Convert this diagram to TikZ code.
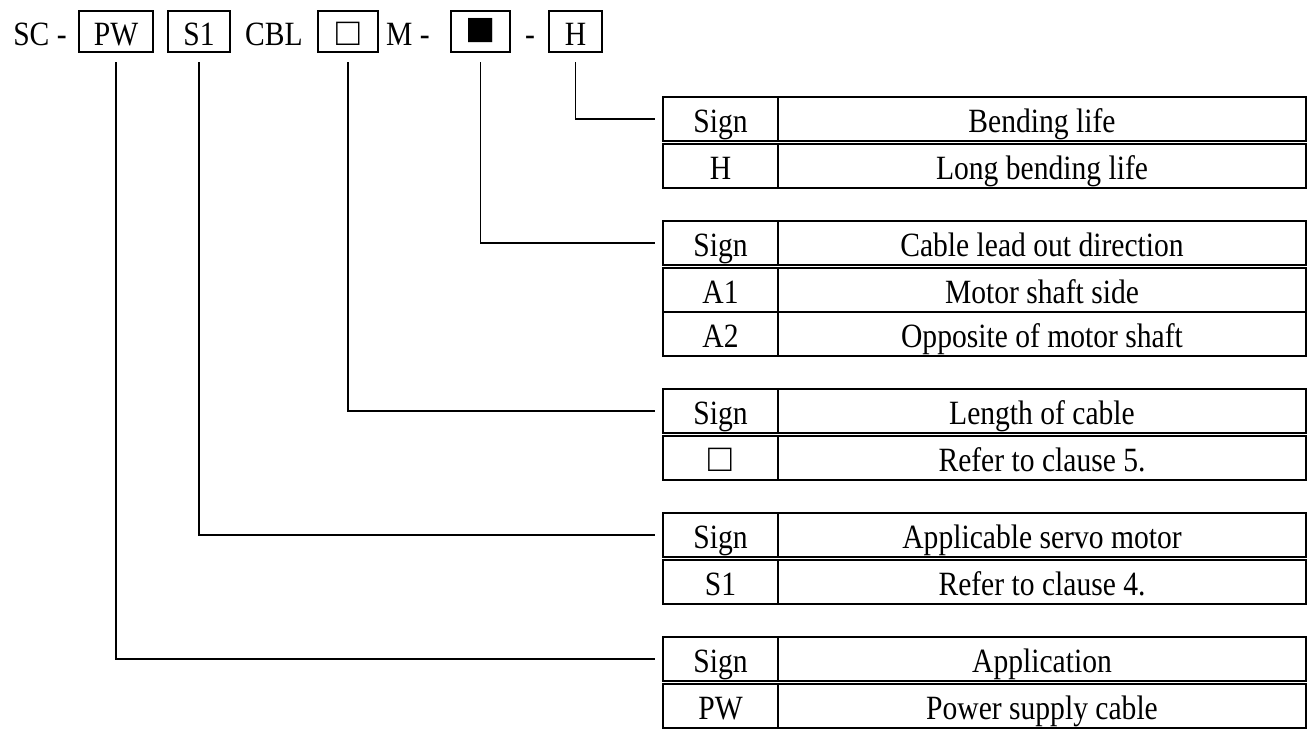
\documentclass[tikz,border=0pt]{standalone}
\usepackage{fontspec}
\setmainfont{Liberation Serif}[FakeStretch=0.87]
\newfontfamily\symfont{Liberation Serif}
\usetikzlibrary{positioning}

\newcommand{\whitesq}{{\symfont\fontsize{39}{39}\selectfont □}}
\newcommand{\blacksq}{{\symfont\fontsize{50}{50}\selectfont ■}}

\begin{document}
\begin{tikzpicture}[x=1pt,y=-1pt,
		every node/.style={font=\fontsize{34}{38}\selectfont,inner sep=0pt,outer sep=0pt,text height=27pt,text depth=0pt},
		codebox/.style={draw,line width=1.7pt,minimum height=41pt},
		signcell/.style={draw,line width=1.8pt,minimum width=115pt,minimum height=44pt},
		desccell/.style={draw,line width=1.8pt,minimum width=528pt,minimum height=44pt},
		lead/.style={line width=1.5pt}]
	\useasboundingbox (0,0) rectangle (1313,729);
	
	% Codice del modello
	\node (sc) at (40,31.5) {SC -};
	\node[codebox,minimum width=74pt] (pw) at (116,31.5) {PW};
	\node[codebox,minimum width=62pt] (s1) at (199,31.5) {S1};
	\node (cbl) at (274,31.5) {CBL};
	\node[codebox,minimum width=60pt] (len) at (348,31.5) {\whitesq};
	\node (m) at (408,31.5) {M -};
	\node[codebox,minimum width=59pt] (dir) at (480.5,31.5) {\blacksq};
	\node (dash) at (530,31.5) {-};
	\node[codebox,minimum width=53pt] (bend) at (575.5,31.5) {H};
	
	% Bending life
	\node[signcell,anchor=north west] (bs) at (663,97) {Sign};
	\node[desccell,right=0pt of bs] (bd) {Bending life};
	\node[signcell,below=3pt of bs] (bs1) {H};
	\node[desccell,right=0pt of bs1] (bd1) {Long bending life};
	
	% Cable lead out direction
	\node[signcell,below=33pt of bs1] (ds) {Sign};
	\node[desccell,right=0pt of ds] (dd) {Cable lead out direction};
	\node[signcell,below=3pt of ds] (ds1) {A1};
	\node[desccell,right=0pt of ds1] (dd1) {Motor shaft side};
	\node[signcell,below=0pt of ds1] (ds2) {A2};
	\node[desccell,right=0pt of ds2] (dd2) {Opposite of motor shaft};
	
	% Length of cable
	\node[signcell,below=33pt of ds2] (ls) {Sign};
	\node[desccell,right=0pt of ls] (ld) {Length of cable};
	\node[signcell,below=3pt of ls] (ls1) {\whitesq};
	\node[desccell,right=0pt of ls1] (ld1) {Refer to clause 5.};
	
	% Applicable servo motor
	\node[signcell,below=33pt of ls1] (ms) {Sign};
	\node[desccell,right=0pt of ms] (md) {Applicable servo motor};
	\node[signcell,below=3pt of ms] (ms1) {S1};
	\node[desccell,right=0pt of ms1] (md1) {Refer to clause 4.};
	
	% Application
	\node[signcell,below=33pt of ms1] (as) {Sign};
	\node[desccell,right=0pt of as] (ad) {Application};
	\node[signcell,below=3pt of as] (as1) {PW};
	\node[desccell,right=0pt of as1] (ad1) {Power supply cable};
	
	% Linee di richiamo
	\draw[lead] ([yshift=-10pt]bend.south) |- ([xshift=-8pt]bs.west);
	\draw[lead] ([yshift=-10pt]dir.south) |- ([xshift=-8pt]ds.west);
	\draw[lead] ([yshift=-10pt]len.south) |- ([xshift=-8pt]ls.west);
	\draw[lead] ([yshift=-10pt]s1.south) |- ([xshift=-8pt]ms.west);
	\draw[lead] ([yshift=-10pt]pw.south) |- ([xshift=-8pt]as.west);
\end{tikzpicture}
\end{document}
